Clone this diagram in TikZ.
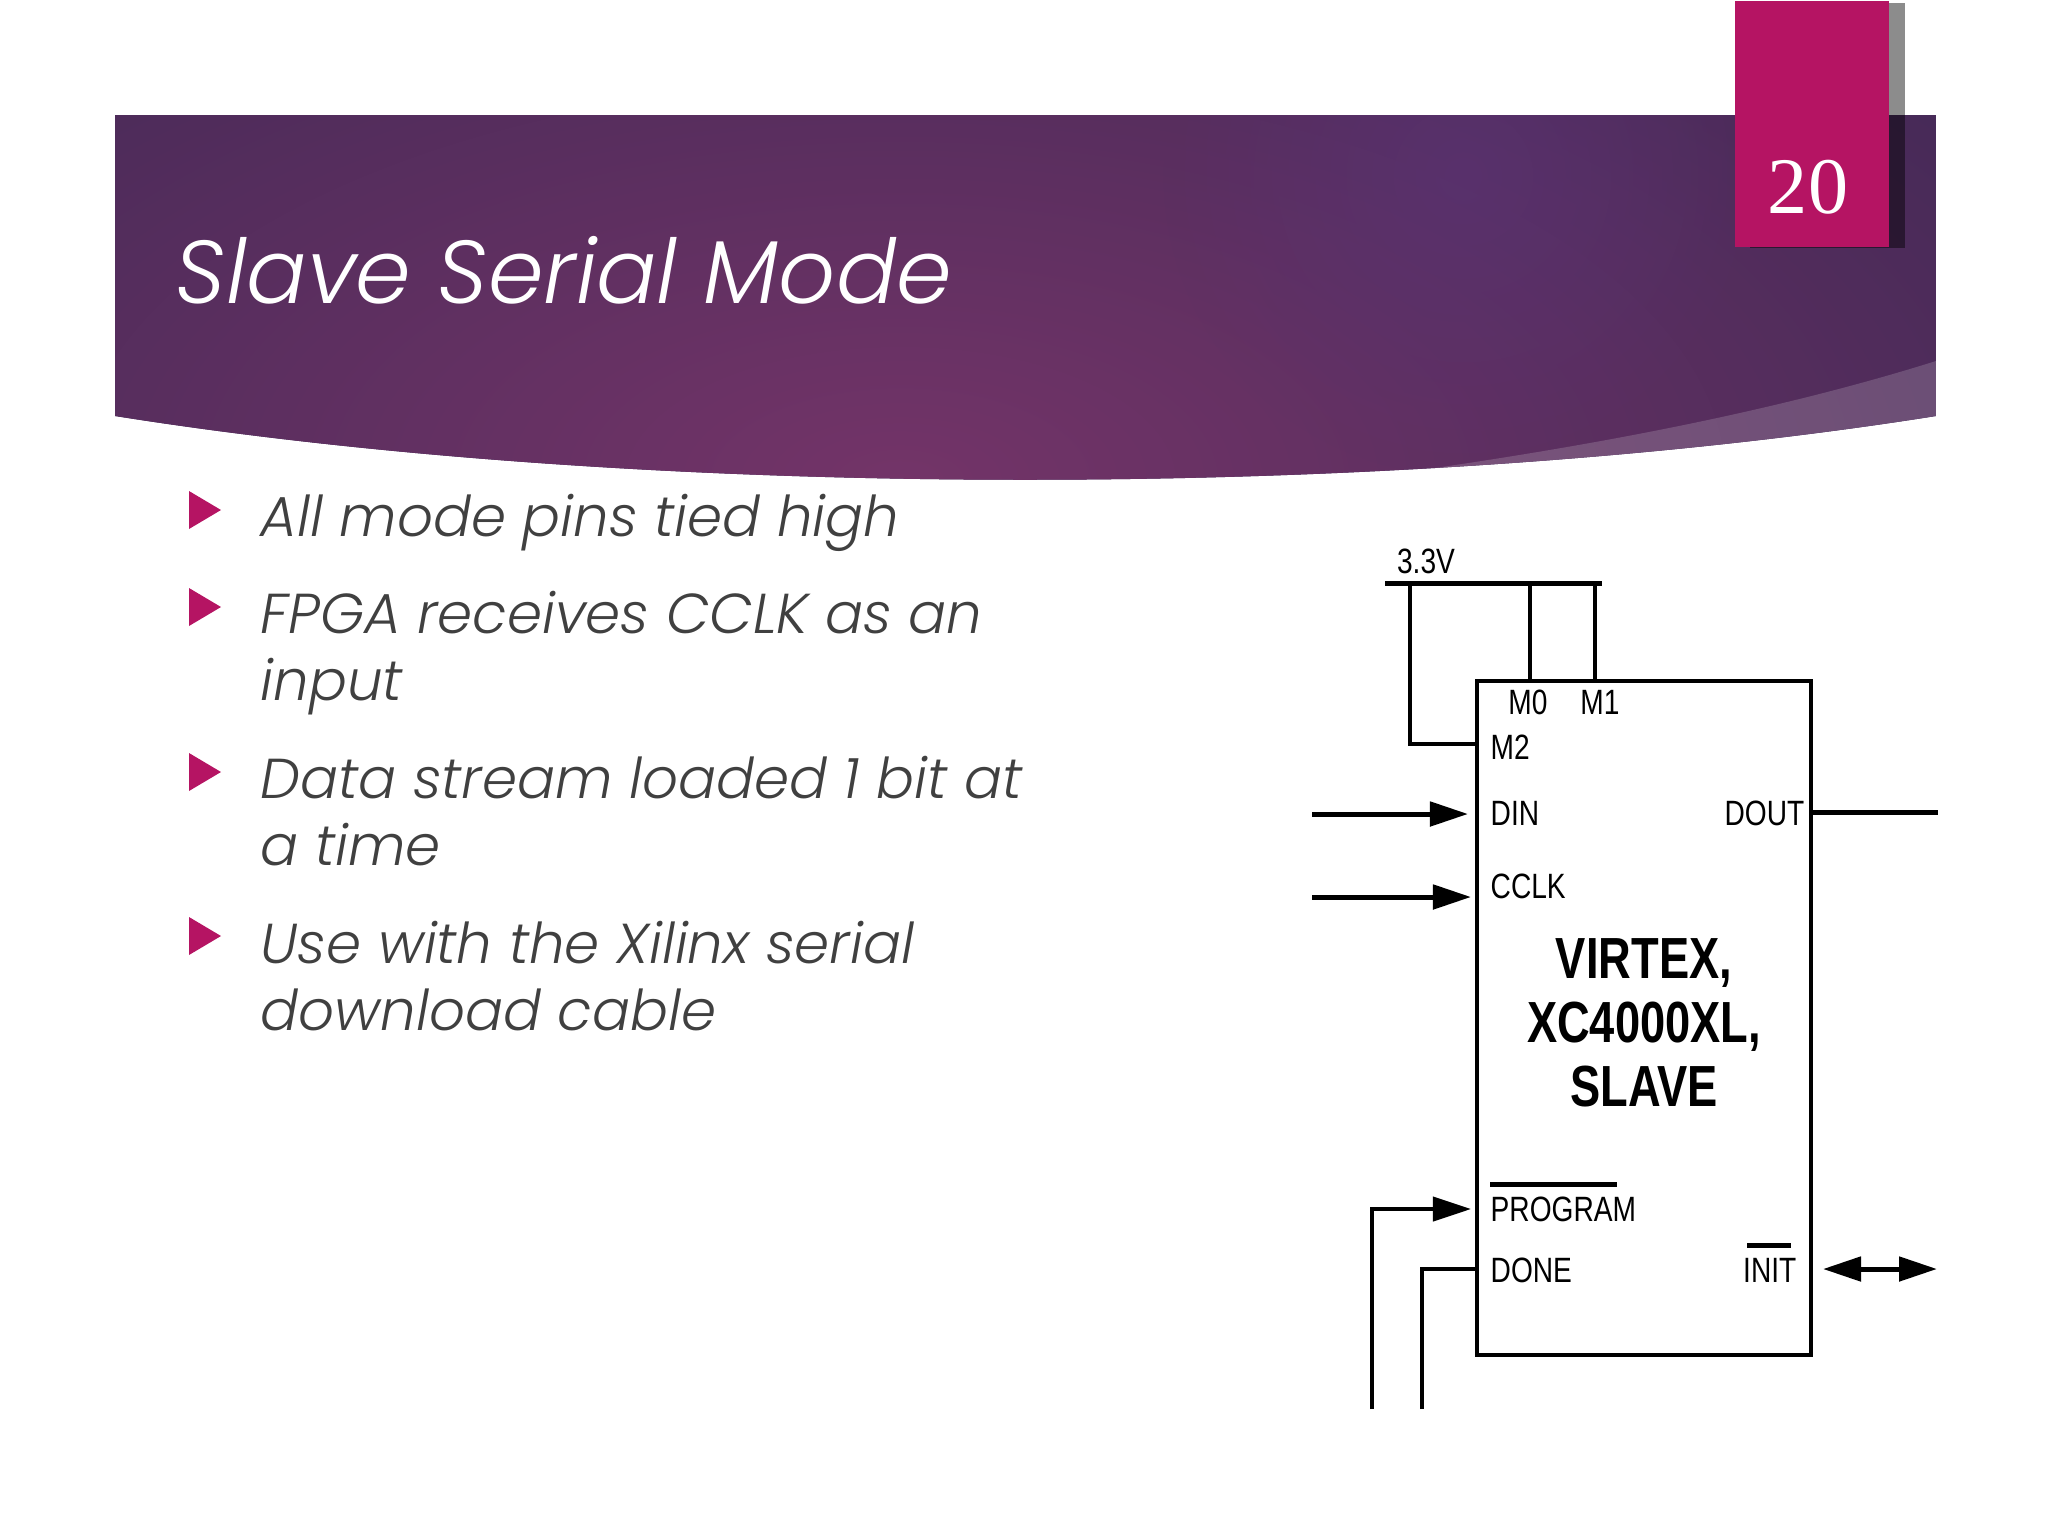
\documentclass[tikz,border=0pt]{standalone}
\usepackage{fontspec}
\usetikzlibrary{arrows.meta}
\usetikzlibrary{graphs}
\usetikzlibrary{fadings}
\newfontfamily\slidefont{Poppins Light Italic}
\newfontfamily\numberfont{Liberation Serif}
\newfontfamily\pinfont[FakeStretch=0.8]{Liberation Sans}
\newfontfamily\chipfont[FakeStretch=0.78]{Liberation Sans Bold}
\definecolor{tabred}{HTML}{B51463}
\definecolor{bandedge}{HTML}{3A2753}
\definecolor{bandmid}{HTML}{733468}
\definecolor{bandspot}{HTML}{5A3374}
\definecolor{bodygray}{HTML}{404040}
\tikzfading[name=spotfade, inner color=transparent!35, outer color=transparent!100]
\tikzset{
  pin/.style= {inner sep=0, font=\pinfont\fontsize{10}{12}\selectfont},
  bullet/.style= {fill=tabred},
  item/.style= {inner sep=0, anchor=north west, align=left, text=bodygray,
    font=\slidefont\fontsize{16}{19.3}\selectfont},
  wire/.style= {line width=0.4mm},
  heavy/.style= {line width=0.5mm},
}

\begin{document}
\begin{tikzpicture}[x=0.01cm, y=-0.01cm, >={Triangle[length=3.8mm, width=2.4mm]}]
  \useasboundingbox (0,0) rectangle (2048,1536);
  % banner
  \begin{scope}
    \clip (115,115) -- (1936,115) -- (1936,416) .. controls (1400,501) and (650,501) .. (115,416) -- cycle;
    \fill [bandedge] (115,115) rectangle (1936,520);
    \shade [inner color=bandmid, outer color=bandedge] (900,480) circle [x radius=1650, y radius=800];
    \fill [bandspot, path fading=spotfade] (1463,176) circle [radius=300];
    \fill [white, opacity=0.17] (1936,361) .. controls (1780,410) and (1600,445) .. (1400,473) -- (1400,520) -- (1960,520) -- cycle;
  \end{scope}
  % page tab
  \fill [black, opacity=0.45] (1750,3) rectangle (1905,248);
  \node [fill=tabred, minimum width=1.54cm, minimum height=2.46cm, inner sep=0, anchor=north west] (tab) at (1734,0) {};
  \node [inner sep=0, text=white, font=\numberfont\fontsize{22.8}{24}\selectfont] (page) at (1808,187) {20};
  \node [inner sep=0, anchor=base west, text=white, font=\slidefont\fontsize{25.4}{30}\selectfont] (title) at (175,303) {Slave Serial Mode};
  % bullets
  \foreach \y in {510,607,772,936}
    \fill [bullet] (189,\y-19) -- (221,\y) -- (189,\y+19) -- cycle;
  \node [item] (one) at (260,493) {All mode pins tied high};
  \node [item] (two) at (260,590) {FPGA receives CCLK as an\\input};
  \node [item] (three) at (260,755) {Data stream loaded 1 bit at\\a time};
  \node [item] (four) at (260,920) {Use with the Xilinx serial\\download cable};
  % chip
  \node [draw, line width=0.4mm, minimum width=3.34cm, minimum height=6.74cm, inner sep=0] (chip) at (1644,1018) {};
  \node [inner sep=0, align=center, font=\chipfont\fontsize{16.5}{18.2}\selectfont] (name) at (1644,1023) {VIRTEX,\\XC4000XL,\\SLAVE};
  \node [pin] (vcc) at (1426,561) {3.3V};
  \node [pin] (mzero) at (1528,702) {M0};
  \node [pin] (mone) at (1600,702) {M1};
  \node [pin, anchor=west] (mtwo) at (1490,747) {M2};
  \node [pin, anchor=west] (din) at (1490,813) {DIN};
  \node [pin, anchor=west] (cclk) at (1490,886) {CCLK};
  \node [pin, anchor=west] (program) at (1490,1209) {PROGRAM};
  \node [pin, anchor=west] (done) at (1490,1270) {DONE};
  \node [pin, anchor=east] (dout) at (1805,813) {DOUT};
  \node [pin, anchor=east] (init) at (1797,1270) {INIT};
  \draw [line width=0.5mm] (1490,1184) -- (1617,1184);
  \draw [line width=0.5mm] (1747,1245) -- (1791,1245);
  % free ends
  \coordinate (railw) at (1385,583);
  \coordinate (raile) at (1602,583);
  \coordinate (mtwotop) at (1410,583);
  \coordinate (mzerotop) at (1530,583);
  \coordinate (mzerobot) at (1530,681);
  \coordinate (monetop) at (1595,583);
  \coordinate (monebot) at (1595,681);
  \coordinate (dinend) at (1312,814);
  \coordinate (dintip) at (1468,814);
  \coordinate (cclkend) at (1312,897);
  \coordinate (cclktip) at (1471,897);
  \coordinate (doutbox) at (1811,812);
  \coordinate (doutend) at (1938,812);
  \coordinate (initl) at (1823,1269);
  \coordinate (initr) at (1937,1269);
  \coordinate (progend) at (1372,1409);
  \coordinate (progtip) at (1471,1209);
  \coordinate (doneend) at (1422,1409);
  \coordinate (donebox) at (1477,1269);
  \coordinate (mtwobox) at (1477,744);

  \graph [edges=heavy] {
    (railw) -- (raile) ;
    (dinend) -> (dintip) ;
    (cclkend) -> (cclktip) ;
    (doutbox) -- (doutend) ;
    (initl) <-> (initr) ;
  } ;
  \graph [edges=wire] {
    (mzerotop) -- (mzerobot) ;
    (monetop) -- (monebot) ;
  } ;
  \draw [wire] (mtwotop) |- (mtwobox);
  \draw [wire, ->] (progend) |- (progtip);
  \draw [wire] (doneend) |- (donebox);
\end{tikzpicture}
\end{document}
